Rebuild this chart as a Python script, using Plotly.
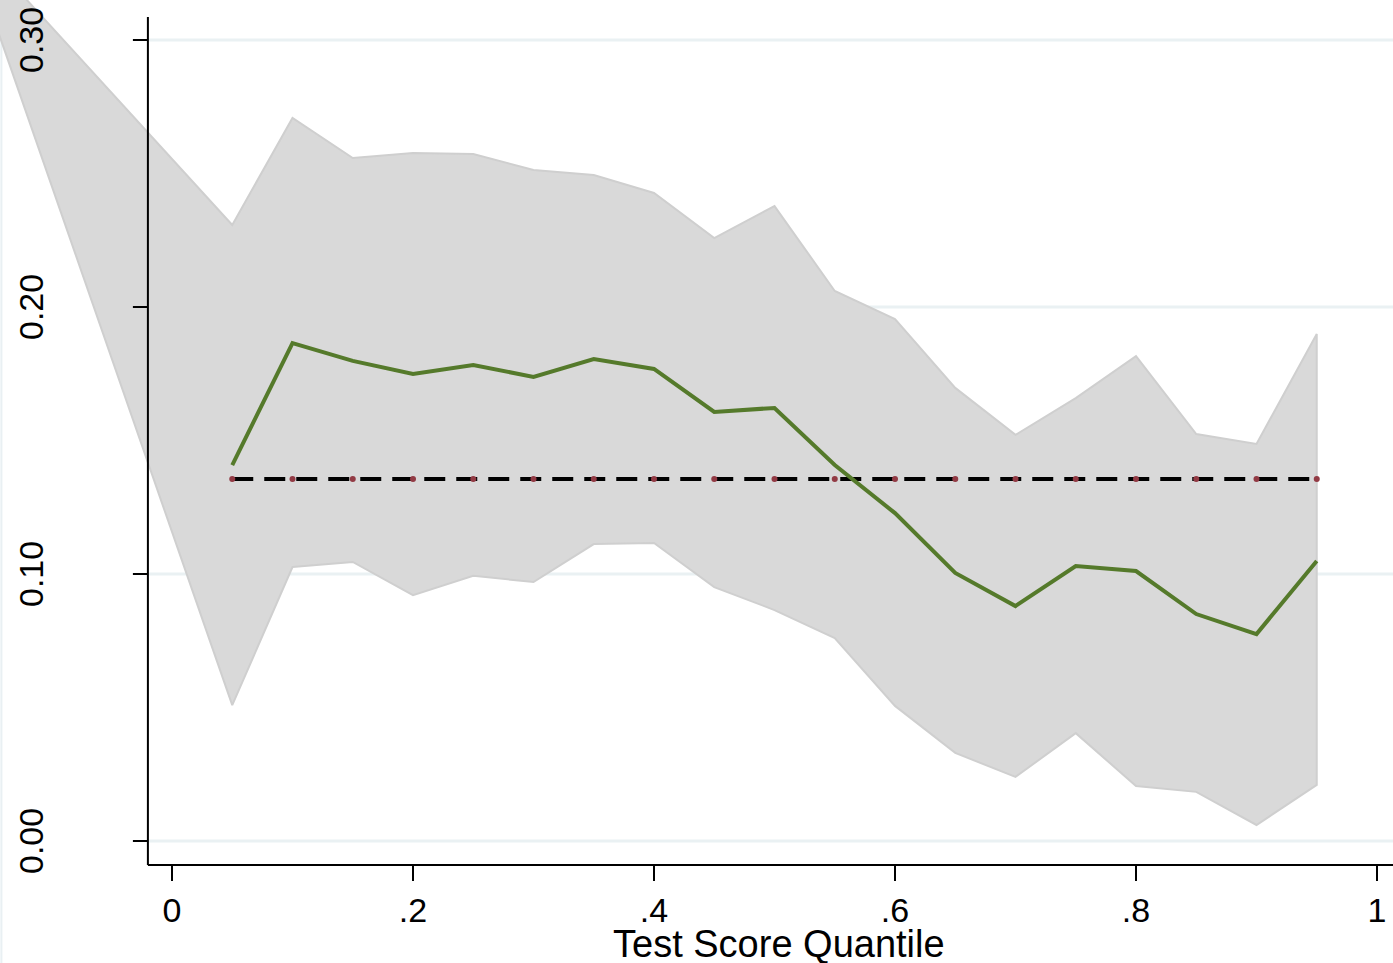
import plotly.graph_objects as go

# Quantile grid and estimates
quantiles = [0.05, 0.10, 0.15, 0.20, 0.25, 0.30, 0.35, 0.40, 0.45, 0.50,
             0.55, 0.60, 0.65, 0.70, 0.75, 0.80, 0.85, 0.90, 0.95]
estimate = [0.1408, 0.1865, 0.1798, 0.1749, 0.1783, 0.1738, 0.1805, 0.1768, 0.1607, 0.1622,
            0.1408, 0.1228, 0.1004, 0.0880, 0.1030, 0.1011, 0.0850, 0.0775, 0.1049]
ci_upper = [0.2307, 0.2708, 0.2558, 0.2577, 0.2573, 0.2513, 0.2494, 0.2427, 0.2258, 0.2378,
            0.2060, 0.1955, 0.1697, 0.1521, 0.1659, 0.1816, 0.1524, 0.1487, 0.1899]
ci_lower = [0.0509, 0.1026, 0.1045, 0.0921, 0.0993, 0.0970, 0.1112, 0.1116, 0.0951, 0.0865,
            0.0760, 0.0506, 0.0330, 0.0240, 0.0404, 0.0206, 0.0184, 0.0060, 0.0210]
# leading point of the confidence band (left of the axis)
band_lead_x = -0.15
band_lead_upper = 0.3296
band_lead_lower = 0.3105
mean_effect = 0.1356

x_ticks = [0, 0.2, 0.4, 0.6, 0.8, 1.0]
x_tick_text = ["0", ".2", ".4", ".6", ".8", "1"]
y_ticks = [0.0, 0.1, 0.2, 0.3]
y_tick_text = ["0.00", "0.10", "0.20", "0.30"]
x_title = "Test Score Quantile"

X_MIN, X_MAX = -172 / 1205, 1221 / 1205
Y_MIN, Y_MAX = -24 / 2670, 841 / 2670
AXIS_X = -0.02
AXIS_TOP = 0.3086
FONT = "Liberation Sans, Arial, sans-serif"

band_x = [band_lead_x] + quantiles + quantiles[::-1] + [band_lead_x]
band_y = [band_lead_upper] + ci_upper + ci_lower[::-1] + [band_lead_lower]

fig = go.Figure()
fig.add_trace(go.Scatter(
    x=band_x, y=band_y, fill="toself", fillcolor="#d9d9d9",
    line=dict(color="#cfcfcf", width=2), mode="lines", hoverinfo="skip"))
fig.add_trace(go.Scatter(
    x=quantiles, y=[mean_effect] * len(quantiles), mode="lines",
    line=dict(color="black", width=4, dash="21px,11px")))
fig.add_trace(go.Scatter(
    x=quantiles, y=[mean_effect] * len(quantiles), mode="markers",
    marker=dict(color="#923a44", size=6)))
fig.add_trace(go.Scatter(
    x=quantiles, y=estimate, mode="lines",
    line=dict(color="#557a2b", width=4)))

shapes = []
# horizontal grid lines
for yv in y_ticks:
    shapes.append(dict(type="line", xref="x", yref="y", x0=AXIS_X, x1=X_MAX, y0=yv, y1=yv,
                       line=dict(color="#eaf1f3", width=3), layer="below"))
# axis lines
shapes.append(dict(type="line", xref="x", yref="y", x0=AXIS_X, x1=AXIS_X, y0=Y_MIN, y1=AXIS_TOP,
                   line=dict(color="black", width=2)))
shapes.append(dict(type="line", xref="x", yref="paper", x0=AXIS_X, x1=X_MAX, y0=0, y1=0,
                   line=dict(color="black", width=2)))
# left frame line of the graph region
shapes.append(dict(type="line", xref="paper", yref="paper", x0=0.001, x1=0.001, y0=-0.2, y1=1,
                   line=dict(color="#e9f0f3", width=2), layer="below"))

annotations = []
tick_px_x = 15 / 1205
for yv, txt in zip(y_ticks, y_tick_text):
    shapes.append(dict(type="line", xref="x", yref="y", x0=AXIS_X - tick_px_x, x1=AXIS_X,
                       y0=yv, y1=yv, line=dict(color="black", width=2)))
    annotations.append(dict(x=31 / 1205 + X_MIN, y=yv, xref="x", yref="y", text=txt,
                            showarrow=False, textangle=-90,
                            font=dict(family=FONT, size=34, color="black"),
                            xanchor="center", yanchor="middle"))
# x-axis title
annotations.append(dict(x=(778.5 - 172) / 1205, y=(865 - 944) / 865, xref="x", yref="paper",
                        text=x_title, showarrow=False,
                        font=dict(family=FONT, size=38, color="black"),
                        xanchor="center", yanchor="middle"))

fig.update_layout(
    width=1393, height=963,
    margin=dict(l=0, r=0, t=0, b=98),
    paper_bgcolor="white", plot_bgcolor="white",
    showlegend=False,
    shapes=shapes, annotations=annotations,
    xaxis=dict(range=[X_MIN, X_MAX], showgrid=False, zeroline=False, showline=False,
               tickvals=x_ticks, ticktext=x_tick_text, ticks="outside", ticklen=15,
               tickwidth=2, tickcolor="black",
               tickfont=dict(family=FONT, size=34, color="black")),
    yaxis=dict(range=[Y_MIN, Y_MAX], showgrid=False, zeroline=False, showline=False,
               showticklabels=False, ticks=""),
)

fig.write_html("out.html")
